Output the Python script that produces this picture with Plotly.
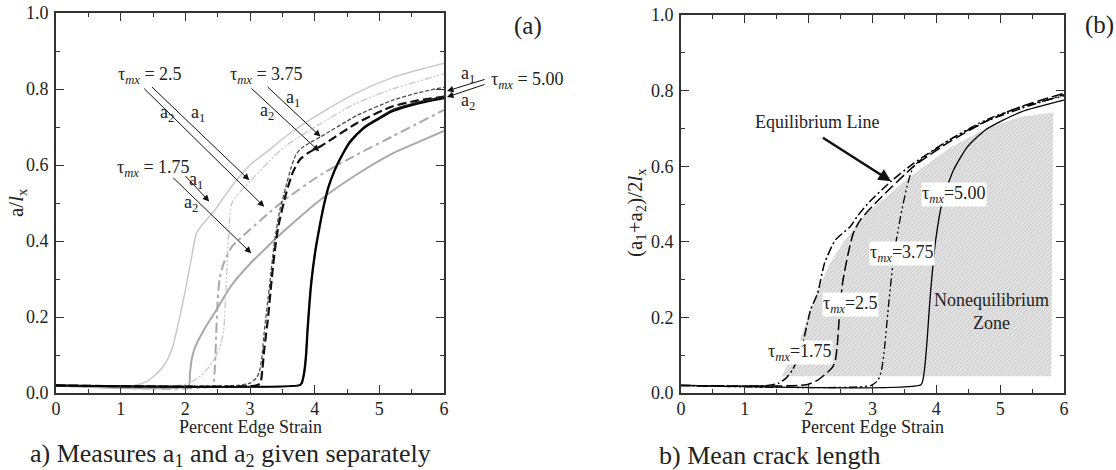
import plotly.graph_objects as go

# ---------------- Panel (a): a1 and a2 for each tau_mx ----------------
t175_a1_x = [0, 1.2, 1.4, 1.55, 1.68, 1.8, 1.9, 2.0, 2.1, 2.17, 2.25, 2.45, 2.7, 3.0, 3.3, 3.55, 4.1, 4.65, 5.2, 5.6, 6.0]
t175_a1_y = [0.02, 0.02, 0.03, 0.05, 0.075, 0.12, 0.19, 0.27, 0.36, 0.42, 0.44, 0.48, 0.54, 0.60, 0.64, 0.675, 0.737, 0.79, 0.83, 0.85, 0.868]

t175_a2_x = [0, 2.05, 2.07, 2.1, 2.15, 2.3, 2.45, 2.7, 3.0, 3.3, 3.55, 4.1, 4.65, 5.2, 5.6, 6.0]
t175_a2_y = [0.02, 0.02, 0.05, 0.09, 0.12, 0.17, 0.21, 0.28, 0.34, 0.39, 0.43, 0.51, 0.575, 0.63, 0.66, 0.69]

t25_a1_x = [0, 1.9, 2.05, 2.23, 2.35, 2.45, 2.53, 2.59, 2.63, 2.67, 2.72, 2.85, 3.0, 3.3, 3.55, 4.1, 4.65, 5.2, 5.6, 6.0]
t25_a1_y = [0.02, 0.02, 0.025, 0.044, 0.065, 0.09, 0.12, 0.16, 0.28, 0.42, 0.50, 0.53, 0.557, 0.61, 0.65, 0.71, 0.763, 0.80, 0.82, 0.84]

t25_a2_x = [0, 2.42, 2.45, 2.47, 2.5, 2.53, 2.59, 2.72, 3.0, 3.3, 3.55, 4.1, 4.65, 5.2, 5.6, 6.0]
t25_a2_y = [0.02, 0.02, 0.05, 0.12, 0.245, 0.3, 0.34, 0.385, 0.43, 0.475, 0.51, 0.575, 0.627, 0.675, 0.71, 0.745]

t375_a1_x = [0, 2.8, 3.0, 3.1, 3.14, 3.18, 3.22, 3.3, 3.38, 3.46, 3.55, 3.63, 3.71, 3.8, 3.94, 4.1, 4.65, 5.2, 5.6, 6.0]
t375_a1_y = [0.02, 0.02, 0.026, 0.04, 0.053, 0.09, 0.16, 0.28, 0.40, 0.48, 0.54, 0.59, 0.627, 0.645, 0.66, 0.675, 0.73, 0.77, 0.79, 0.805]

t375_a2_x = [0, 3.1, 3.16, 3.19, 3.22, 3.28, 3.33, 3.38, 3.44, 3.55, 3.66, 3.77, 3.9, 4.1, 4.65, 5.2, 5.6, 6.0]
t375_a2_y = [0.02, 0.02, 0.026, 0.06, 0.114, 0.2, 0.29, 0.37, 0.44, 0.52, 0.58, 0.614, 0.632, 0.65, 0.71, 0.754, 0.77, 0.78]

t500_a1_x = [0, 3.75, 3.79, 3.83, 3.86, 3.88, 3.91, 3.94, 4.0, 4.05, 4.13, 4.21, 4.3, 4.38, 4.54, 4.76, 5.0, 5.2, 5.6, 6.0]
t500_a1_y = [0.02, 0.02, 0.025, 0.053, 0.10, 0.158, 0.23, 0.29, 0.37, 0.42, 0.49, 0.544, 0.585, 0.614, 0.662, 0.70, 0.725, 0.745, 0.765, 0.78]

t500_a2_x = [0, 3.76, 3.8, 3.84, 3.87, 3.89, 3.92, 3.95, 4.01, 4.06, 4.14, 4.22, 4.31, 4.39, 4.55, 4.76, 5.0, 5.2, 5.6, 6.0]
t500_a2_y = [0.02, 0.02, 0.025, 0.053, 0.10, 0.158, 0.23, 0.29, 0.37, 0.42, 0.49, 0.544, 0.585, 0.614, 0.66, 0.697, 0.722, 0.741, 0.762, 0.776]

# ---------------- Panel (b): mean crack length ----------------
m175_x = [0, 1.36, 1.53, 1.65, 1.75, 1.85, 1.92, 2.03, 2.14, 2.25, 2.42, 2.65, 2.76, 2.92, 3.29, 3.65, 4.21, 4.77, 5.33, 6.0]
m175_y = [0.02, 0.02, 0.026, 0.04, 0.062, 0.10, 0.14, 0.22, 0.264, 0.344, 0.405, 0.44, 0.467, 0.50, 0.56, 0.608, 0.67, 0.718, 0.753, 0.789]

m25_x = [0, 1.97, 2.15, 2.31, 2.38, 2.42, 2.45, 2.48, 2.53, 2.62, 2.70, 2.81, 3.09, 3.65, 4.21, 4.77, 5.33, 6.0]
m25_y = [0.02, 0.022, 0.035, 0.057, 0.07, 0.088, 0.13, 0.2, 0.29, 0.37, 0.423, 0.458, 0.51, 0.60, 0.665, 0.718, 0.758, 0.793]

m375_x = [0, 2.98, 3.09, 3.14, 3.18, 3.26, 3.34, 3.43, 3.54, 3.65, 4.21, 4.77, 5.33, 6.0]
m375_y = [0.02, 0.02, 0.035, 0.06, 0.106, 0.247, 0.37, 0.458, 0.546, 0.60, 0.67, 0.722, 0.757, 0.786]

m500_x = [0, 3.76, 3.79, 3.82, 3.86, 3.90, 3.99, 4.1, 4.27, 4.49, 4.77, 5.33, 6.0]
m500_y = [0.02, 0.022, 0.035, 0.07, 0.15, 0.247, 0.405, 0.51, 0.59, 0.652, 0.696, 0.744, 0.775]

# Outline of the nonequilibrium zone
zone_x = [1.58, 1.86, 2.09, 2.31, 2.53, 2.81, 3.09, 3.65, 4.21, 4.77, 5.33, 5.83, 5.80, 1.58]
zone_y = [0.044, 0.14, 0.247, 0.335, 0.396, 0.458, 0.502, 0.58, 0.648, 0.70, 0.731, 0.742, 0.044, 0.044]

x_ticks = [0, 1, 2, 3, 4, 5, 6]
y_ticks = [0.0, 0.2, 0.4, 0.6, 0.8, 1.0]

W, H = 1116, 470
SERIF = "Liberation Serif, Times New Roman, serif"
TAU = "τ<sub><i>mx</i></sub>"

fig = go.Figure()


def line(x, y, color, width, dash, xa, ya):
    fig.add_trace(go.Scatter(
        x=x, y=y, mode="lines", xaxis=xa, yaxis=ya, showlegend=False,
        line=dict(color=color, width=width, dash=dash, shape="spline", smoothing=0.6),
        hoverinfo="skip"))


# panel (a)
line(t175_a1_x, t175_a1_y, "#c9c9c9", 1.5, "solid", "x", "y")
line(t175_a2_x, t175_a2_y, "#a9a9a9", 2.0, "solid", "x", "y")
line(t25_a1_x, t25_a1_y, "#c9c9c9", 1.3, "7px,2px,2px,2px,2px,2px", "x", "y")
line(t25_a2_x, t25_a2_y, "#a9a9a9", 2.0, "10px,4px,3px,4px", "x", "y")
line(t375_a1_x, t375_a1_y, "#505050", 1.3, "4px,2px", "x", "y")
line(t375_a2_x, t375_a2_y, "#111111", 2.2, "9px,4px", "x", "y")
line(t500_a1_x, t500_a1_y, "#222222", 1.5, "solid", "x", "y")
line(t500_a2_x, t500_a2_y, "#000000", 2.0, "solid", "x", "y")

# panel (b)
fig.add_trace(go.Scatter(
    x=zone_x, y=zone_y, mode="lines", xaxis="x2", yaxis="y2", showlegend=False,
    fill="toself", line=dict(width=0, color="rgba(0,0,0,0)"),
    fillcolor="#dedede",
    fillpattern=dict(shape="/", fgcolor="#a8a8a8", bgcolor="#e4e4e4", size=3, solidity=0.3),
    hoverinfo="skip"))
line(m175_x, m175_y, "#000000", 1.5, "9px,3px,2px,3px", "x2", "y2")
line(m25_x, m25_y, "#000000", 1.5, "11px,4px", "x2", "y2")
line(m375_x, m375_y, "#000000", 1.3, "8px,3px,2px,3px,2px,3px", "x2", "y2")
line(m500_x, m500_y, "#000000", 1.3, "solid", "x2", "y2")

axis_common = dict(
    showline=True, linecolor="#333333", linewidth=2, mirror="ticks",
    ticks="inside", ticklen=8, tickwidth=1.3, tickcolor="#333333",
    showgrid=False, zeroline=False, automargin=False,
    tickfont=dict(family=SERIF, size=18, color="#222222"),
)
xa = dict(axis_common, range=[0, 6], tickvals=x_ticks, ticktext=[str(v) for v in x_ticks],
          minor=dict(ticks="inside", ticklen=4, tickwidth=1.1, tickcolor="#333333", dtick=0.5, tick0=0),
          ticklabelstandoff=-2)
ya = dict(axis_common, range=[0, 1], tickvals=y_ticks, ticktext=[f"{v:.1f}" for v in y_ticks],
          minor=dict(ticks="inside", ticklen=4, tickwidth=1.1, tickcolor="#333333", dtick=0.1, tick0=0),
          ticklabelstandoff=2)

# plot-area boxes in pixels (left, right, top, bottom)
A_BOX = (56, 444, 13, 393)
B_BOX = (681, 1064, 15, 393)

fig.update_layout(
    width=W, height=H, margin=dict(l=0, r=0, t=0, b=0, autoexpand=False),
    paper_bgcolor="white", plot_bgcolor="white",
    xaxis=dict(xa, domain=[A_BOX[0] / W, A_BOX[1] / W], anchor="y"),
    yaxis=dict(ya, domain=[1 - A_BOX[3] / H, 1 - A_BOX[2] / H], anchor="x"),
    xaxis2=dict(xa, domain=[B_BOX[0] / W, B_BOX[1] / W], anchor="y2"),
    yaxis2=dict(ya, domain=[1 - B_BOX[3] / H, 1 - B_BOX[2] / H], anchor="x2"),
    font=dict(family=SERIF, color="#222222"),
)

ann = []


def text(x, y, s, size=18, xref="x", yref="y", **kw):
    d = dict(x=x, y=y, text=s, xref=xref, yref=yref, showarrow=False,
             xanchor="center", yanchor="middle",
             font=dict(family=SERIF, size=size, color="#222222"))
    d.update(kw)
    ann.append(d)


def ptext(px, py, s, size=18, **kw):
    # text placed by pixel position on the page
    text(px / W, 1 - py / H, s, size=size, xref="paper", yref="paper", **kw)


def arrow(x0, y0, x1, y1, xref="x", yref="y", width=1, head=2, size=1.3):
    ann.append(dict(x=x1, y=y1, ax=x0, ay=y0, xref=xref, yref=yref,
                    axref=xref, ayref=yref, text="", showarrow=True,
                    arrowhead=head, arrowsize=size, arrowwidth=width,
                    arrowcolor="#111111", standoff=0, startstandoff=0))


def parrow(px0, py0, px1, py1, width=1, head=2, size=1.3):
    # arrow outside the axes, head given in page pixels, tail as pixel offset
    ann.append(dict(x=px1 / W, y=1 - py1 / H, xref="paper", yref="paper",
                    ax=px0 - px1, ay=py0 - py1, axref="pixel", ayref="pixel",
                    text="", showarrow=True, arrowhead=head, arrowsize=size,
                    arrowwidth=width, arrowcolor="#111111", standoff=0, startstandoff=0))


# panel (a) labels and pointers
text(1.46, 0.835, f"{TAU} = 2.5")
text(3.25, 0.835, f"{TAU} = 3.75")
text(1.51, 0.592, f"{TAU} = 1.75")
arrow(1.46, 0.809, 2.99, 0.56)
arrow(1.34, 0.805, 3.22, 0.49)
text(2.2, 0.735, "a<sub>1</sub>")
text(1.71, 0.735, "a<sub>2</sub>")
arrow(3.25, 0.809, 4.09, 0.675)
arrow(3.0, 0.805, 4.07, 0.636)
text(3.66, 0.775, "a<sub>1</sub>")
text(3.27, 0.74, "a<sub>2</sub>")
arrow(1.98, 0.575, 2.37, 0.504)
arrow(1.79, 0.57, 3.02, 0.368)
text(2.16, 0.56, "a<sub>1</sub>")
text(2.09, 0.50, "a<sub>2</sub>")

# tau = 5.00 label sits to the right of the frame
ptext(489, 81, f"{TAU} = 5.00", xanchor="left")
parrow(486, 79, 447, 91)
parrow(486, 84, 447, 97)
ptext(468, 75, "a<sub>1</sub>")
ptext(468, 101, "a<sub>2</sub>")

# panel (b) labels
text(1.86, 0.106, f"{TAU}=1.75", xref="x2", yref="y2", bgcolor="white", borderpad=0)
text(2.65, 0.233, f"{TAU}=2.5", xref="x2", yref="y2", bgcolor="white", borderpad=0)
text(3.46, 0.37, f"{TAU}=3.75", xref="x2", yref="y2", bgcolor="white", borderpad=0)
text(4.27, 0.524, f"{TAU}=5.00", xref="x2", yref="y2", bgcolor="white", borderpad=0)
text(4.87, 0.215, "Nonequilibrium<br>Zone", xref="x2", yref="y2")
text(2.13, 0.718, "Equilibrium Line", xref="x2", yref="y2")
arrow(2.2, 0.678, 3.29, 0.56, xref="x2", yref="y2", width=2.5, head=2, size=1)

# axis titles
ptext((A_BOX[0] + A_BOX[1]) / 2, 427, "Percent Edge Strain", size=18)
ptext((B_BOX[0] + B_BOX[1]) / 2, 427, "Percent Edge Strain", size=18)
ptext(17, 203, "a/<i>l</i><sub>x</sub>", size=21, textangle=-90)
ptext(636, 213, "(a<sub>1</sub>+a<sub>2</sub>)/2<i>l</i><sub>x</sub>", size=21, textangle=-90)

# panel tags and captions
ptext(528, 26, "(a)", size=25)
ptext(1099, 25, "(b)", size=25)
ptext(28, 455, "a) Measures a<sub>1</sub> and a<sub>2</sub> given separately", size=26, xanchor="left")
ptext(657, 455, "b) Mean crack length", size=26, xanchor="left")

fig.update_layout(annotations=ann)
fig.write_html("out.html", post_script="document.body.style.margin='0';")
